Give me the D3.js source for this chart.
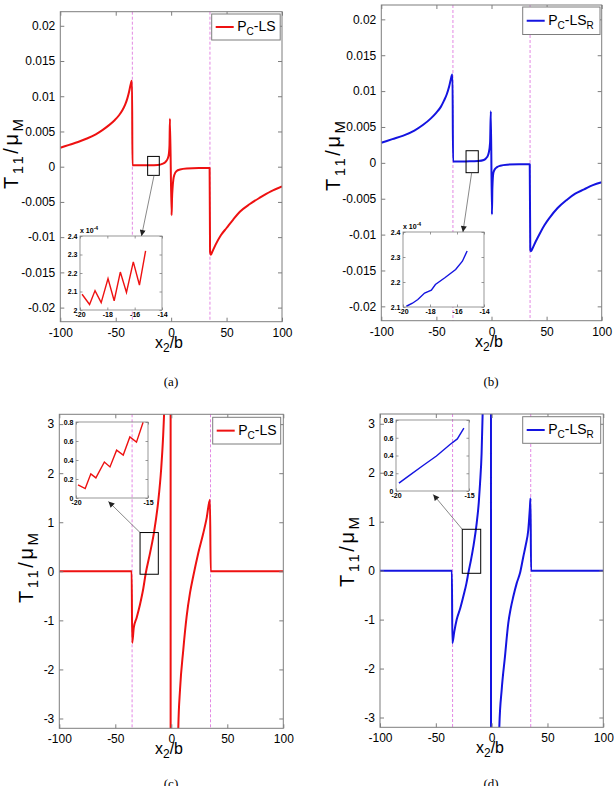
<!DOCTYPE html>
<html><head><meta charset="utf-8">
<script src="https://cdn.jsdelivr.net/npm/d3@7"></script>
<style>body{margin:0;background:#fff}</style>
</head><body>
<script>
// ---------------- DATA ----------------
const xTicksMain = [-100, -50, 0, 50, 100];
const yTicksSmall = [-0.02, -0.015, -0.01, -0.005, 0, 0.005, 0.01, 0.015, 0.02];
const yTicksLarge = [-3, -2, -1, 0, 1, 2, 3];
const interfacePositions = [-35, 35];

const curveA = [[-100,0.0027],[-92,0.0031],[-84,0.0035],[-76,0.004],[-68,0.0046],[-62,0.0052],[-56,0.0059],[-51,0.0066],[-47,0.0073],[-44,0.008],[-41.5,0.0088],[-39.5,0.0097],[-38,0.0106],[-36.8,0.0115],[-35.8,0.0121],[-35.3,0.0122],[-34.9,0.0002],[-30,0.0002],[-20,0.00021],[-12,0.00025],[-8,0.0004],[-5,0.0007],[-3,0.0012],[-2,0.0019],[-1.5,0.003],[-1.1,0.0068],[0.4,-0.0069],[0.8,-0.0045],[1.3,-0.003],[2,-0.0018],[3,-0.0011],[5,-0.0006],[8,-0.0004],[14,-0.00025],[25,-0.0002],[34.7,-0.0002],[35.1,-0.0121],[35.8,-0.0125],[37,-0.0121],[40,-0.0111],[45,-0.0097],[50,-0.0087],[56,-0.0075],[62,-0.0064],[71,-0.0053],[80,-0.0044],[90,-0.0035],[100,-0.0028]];
const curveB = [[-100,0.0028],[-90,0.0033],[-80,0.0038],[-70,0.0045],[-62,0.0053],[-55,0.0062],[-50,0.007],[-46,0.0078],[-43,0.0087],[-40.5,0.0096],[-38.5,0.0106],[-37,0.0116],[-36,0.0122],[-35.4,0.0123],[-34.9,0.0002],[-30,0.0002],[-20,0.00021],[-12,0.00026],[-7,0.0004],[-4,0.0008],[-2.5,0.0014],[-1.3,0.0028],[-0.6,0.0072],[0.4,-0.0072],[0.8,-0.0035],[1.7,-0.0014],[3,-0.0009],[5,-0.0006],[8,-0.0004],[14,-0.00025],[25,-0.0002],[34.7,-0.0002],[35.2,-0.0121],[35.8,-0.0123],[37,-0.012],[40,-0.011],[44,-0.0098],[48,-0.0087],[53,-0.0076],[60,-0.0063],[68,-0.0052],[76,-0.0043],[84,-0.0037],[92,-0.0031],[100,-0.0027]];
const curveC = [[-100,0],[-35.4,0],[-34.9,-1.46],[-33.5,-1.15],[-31,-0.95],[-28,-0.68],[-25,-0.35],[-22.9,-0.05],[-19,0.37],[-15.4,0.8],[-11.8,1.4],[-9,2.1],[-7.3,2.75],[-6.3,3.3],[-5.9,3.6],[-2,8],[-0.7,40],[-0.5,-40],[2,-8],[5.9,-3.6],[6.25,-3.2],[7.8,-2.41],[10.7,-1.6],[13.7,-0.92],[16.7,-0.44],[19.6,-0.1],[24.1,0.375],[28.6,0.78],[31.6,1.09],[34.5,1.46],[35.2,0],[100,0]];
const curveD = [[-100,0],[-35.6,0],[-35.2,-1.48],[-33.5,-1.25],[-31.3,-1.0],[-28,-0.76],[-25.4,-0.53],[-22.5,-0.25],[-20.9,-0.05],[-18.5,0.22],[-16.4,0.49],[-13.4,0.97],[-11.5,1.4],[-10.4,1.78],[-9,2.4],[-8.1,3.18],[-7.7,3.6],[-2,8],[-0.7,40],[-0.5,-40],[2,-8],[6.5,-3.6],[6.9,-3.18],[9,-2.43],[11.9,-1.76],[14.9,-1.07],[17,-0.78],[19.4,-0.53],[22.4,-0.26],[25.4,-0.05],[28.4,0.29],[30.5,0.52],[32.8,0.83],[34.3,1.3],[34.8,1.48],[35.3,0],[100,0]];

const insetA = [[-19.85,2.085],[-19.3,2.03],[-18.9,2.105],[-18.45,2.04],[-17.95,2.17],[-17.5,2.05],[-17.05,2.205],[-16.6,2.095],[-16.1,2.26],[-15.65,2.135],[-15.2,2.32]];
const insetB = [[-19.75,2.103],[-19.3,2.115],[-18.9,2.13],[-18.4,2.156],[-17.9,2.167],[-17.6,2.19],[-16.9,2.217],[-16.1,2.25],[-15.6,2.283],[-15.25,2.324]];
const insetC = [[-19.86,0.139],[-19.36,0.10],[-18.97,0.254],[-18.62,0.212],[-18.03,0.379],[-17.64,0.327],[-17.18,0.504],[-16.72,0.452],[-16.26,0.643],[-15.8,0.588],[-15.34,0.797]];
const insetD = [[-19.8,0.089],[-19.1,0.173],[-18.17,0.284],[-17.23,0.395],[-16.3,0.524],[-15.8,0.587],[-15.35,0.708]];

const insetXTicksAB = [-20, -18, -16, -14];
const insetXTicksCD = [-20, -15];
const insetYTicksA = [2, 2.1, 2.2, 2.3, 2.4];
const insetYTicksB = [2.1, 2.2, 2.3, 2.4];
const insetYTicksCD = [0, 0.2, 0.4, 0.6, 0.8];

// zoom rectangles in data units: [x0, x1, y0, y1]
const zoomBoxA = [-21.2, -10.7, -0.00123, 0.00146];
const zoomBoxB = [-23.1, -12.0, -0.00137, 0.00169];
const zoomBoxC = [-27.9, -11.6, -0.06, 0.79];
const zoomBoxD = [-26.3, -9.8, -0.054, 0.845];

// ---------------- DRAWING ----------------
const RED = '#ee1111', BLUE = '#1414e0', AX = '#7d7d7d', DASH = '#e07ae0';
const FONT = '"Liberation Sans", Arial, Helvetica, sans-serif';
const svg = d3.select('body').append('svg').attr('width', 614).attr('height', 786);
svg.append('rect').attr('width', 614).attr('height', 786).attr('fill', '#fff');
const defs = svg.append('defs');
defs.append('marker').attr('id', 'arr').attr('viewBox', '0 0 10 10').attr('refX', 10).attr('refY', 5)
  .attr('markerUnits', 'userSpaceOnUse').attr('markerWidth', 7).attr('markerHeight', 6).attr('orient', 'auto')
  .append('path').attr('d', 'M0,0 L10,5 L0,10 z').attr('fill', '#222');

const fmtSmall = d => String(+d.toFixed(3));
const fmtPlain = d => String(+d.toFixed(2));

const panels = [
  { id: 'a', data: curveA, color: RED, yDomain: [-0.022, 0.022], yTicks: yTicksSmall, fmt: fmtSmall,
    box: { l: 60.3, r: 282, t: 11.7, b: 321.7 }, legend: { x: 211.7, y: 14, w: 68.5, h: 26 }, subR: false,
    zoom: zoomBoxA, ylab: { x: 18, y: 154 }, xlab: { x: 169, y: 348 }, cap: { x: 171, y: 386, t: '(a)' },
    inset: { l: 80, r: 162, t: 236, b: 310, data: insetA, xd: [-20, -14], yd: [2, 2.4], xt: insetXTicksAB, yt: insetYTicksA, exp: true, opaque: true },
    arrow: { sx: 0.55, ex: 0.75, fromBottom: true } },
  { id: 'b', data: curveB, color: BLUE, yDomain: [-0.022, 0.022], yTicks: yTicksSmall, fmt: fmtSmall,
    box: { l: 381.3, r: 601.7, t: 5, b: 320.7 }, legend: { x: 522.7, y: 7, w: 77.3, h: 27.5 }, subR: true,
    zoom: zoomBoxB, ylab: { x: 340, y: 156 }, xlab: { x: 489, y: 347 }, cap: { x: 491, y: 386, t: '(b)' },
    inset: { l: 403, r: 484, t: 232, b: 307, data: insetB, xd: [-20, -14], yd: [2.1, 2.4], xt: insetXTicksAB, yt: insetYTicksB, exp: true, opaque: true },
    arrow: { sx: 0.46, ex: 0.74, fromBottom: true } },
  { id: 'c', data: curveC, color: RED, yDomain: [-3.2, 3.2], yTicks: yTicksLarge, fmt: fmtPlain,
    box: { l: 59.3, r: 283.3, t: 414.3, b: 728.3 }, legend: { x: 212.7, y: 417.3, w: 68, h: 26.7 }, subR: false,
    zoom: zoomBoxC, ylab: { x: 33, y: 568 }, xlab: { x: 169, y: 754 }, cap: { x: 171, y: 788, t: '(c)' },
    inset: { l: 76, r: 148, t: 422, b: 498, data: insetC, xd: [-20, -15], yd: [0, 0.8], xt: insetXTicksCD, yt: insetYTicksCD, exp: false, opaque: false },
    arrow: { sx: 0, ex: 0.45, fromBottom: false } },
  { id: 'd', data: curveD, color: BLUE, yDomain: [-3.2, 3.2], yTicks: yTicksLarge, fmt: fmtPlain,
    box: { l: 380, r: 603.3, t: 414, b: 727.3 }, legend: { x: 522.7, y: 416.7, w: 78, h: 26.6 }, subR: true,
    zoom: zoomBoxD, ylab: { x: 354, y: 552 }, xlab: { x: 490, y: 753 }, cap: { x: 491, y: 788, t: '(d)' },
    inset: { l: 396, r: 469, t: 420, b: 491, data: insetD, xd: [-20, -15], yd: [0, 0.8], xt: insetXTicksCD, yt: insetYTicksCD, exp: false, opaque: false },
    arrow: { sx: 0, ex: 0.51, fromBottom: false } }
];

function drawAxes(g, x, y, xt, yt, xf, yf, o) {
  const { l, r, t, b } = o.box;
  const tl = o.tickLen;
  const ax = g.append('g').attr('transform', `translate(0,${b})`)
    .call(d3.axisBottom(x).tickValues(xt).tickFormat(xf).tickSize(-tl).tickPadding(o.padX));
  const ay = g.append('g').attr('transform', `translate(${l},0)`)
    .call(d3.axisLeft(y).tickValues(yt).tickFormat(yf).tickSize(-tl).tickPadding(o.padY));
  const at = g.append('g').attr('transform', `translate(0,${t})`)
    .call(d3.axisTop(x).tickValues(xt).tickFormat('').tickSize(-tl));
  const ar = g.append('g').attr('transform', `translate(${r},0)`)
    .call(d3.axisRight(y).tickValues(yt).tickFormat('').tickSize(-tl));
  [ax, ay, at, ar].forEach(a => {
    a.select('.domain').remove();
    a.selectAll('line').attr('stroke', AX).attr('stroke-width', o.sw);
    a.selectAll('text').attr('fill', '#000').attr('font-family', FONT).attr('font-size', o.fs)
      .attr('font-weight', o.bold ? 'bold' : 'normal');
  });
  g.append('rect').attr('x', l).attr('y', t).attr('width', r - l).attr('height', b - t)
    .attr('fill', 'none').attr('stroke', AX).attr('stroke-width', o.sw);
}

panels.forEach(p => {
  const g = svg.append('g').attr('id', 'panel-' + p.id);
  const { l, r, t, b } = p.box;
  const x = d3.scaleLinear().domain([-100, 100]).range([l, r]);
  const y = d3.scaleLinear().domain(p.yDomain).range([b, t]);
  const clipId = 'clip-' + p.id;
  defs.append('clipPath').attr('id', clipId).append('rect').attr('x', l).attr('y', t).attr('width', r - l).attr('height', b - t);

  // interface dashed lines
  g.selectAll('line.iface').data(interfacePositions).join('line').attr('class', 'iface')
    .attr('x1', d => x(d)).attr('x2', d => x(d)).attr('y1', t).attr('y2', b)
    .attr('stroke', DASH).attr('stroke-width', 0.9).attr('stroke-dasharray', '3,2');

  // main curve
  const line = d3.line().curve(d3.curveMonotoneX).x(d => x(d[0])).y(d => y(d[1]));
  g.append('path').datum(p.data).attr('d', line).attr('clip-path', `url(#${clipId})`)
    .attr('fill', 'none').attr('stroke', p.color).attr('stroke-width', 2).attr('stroke-linejoin', 'round');

  drawAxes(g, x, y, xTicksMain, p.yTicks, d => String(d), p.fmt,
    { box: p.box, tickLen: 4, padX: 6.5, padY: 5, sw: 1, fs: 12, bold: false });

  // zoom box
  const z = p.zoom;
  const zx0 = x(z[0]), zx1 = x(z[1]), zy0 = y(z[3]), zy1 = y(z[2]);
  g.append('rect').attr('x', zx0).attr('y', zy0).attr('width', zx1 - zx0).attr('height', zy1 - zy0)
    .attr('fill', 'none').attr('stroke', '#000').attr('stroke-width', 1);

  // inset
  const I = p.inset;
  const ix = d3.scaleLinear().domain(I.xd).range([I.l, I.r]);
  const iy = d3.scaleLinear().domain(I.yd).range([I.b, I.t]);
  const ig = g.append('g').attr('class', 'inset');
  if (I.opaque) ig.append('rect').attr('x', I.l).attr('y', I.t).attr('width', I.r - I.l).attr('height', I.b - I.t).attr('fill', '#fff');
  ig.append('path').datum(I.data).attr('d', d3.line().x(d => ix(d[0])).y(d => iy(d[1])))
    .attr('fill', 'none').attr('stroke', p.color).attr('stroke-width', 1.4);
  drawAxes(ig, ix, iy, I.xt, I.yt, d => String(d), d => String(d),
    { box: { l: I.l, r: I.r, t: I.t, b: I.b }, tickLen: 2.5, padX: 2, padY: 2.5, sw: 0.8, fs: 7, bold: true });
  if (I.exp) {
    const et = ig.append('text').attr('x', I.l).attr('y', I.t - 3).attr('font-family', FONT)
      .attr('font-size', 7).attr('font-weight', 'bold');
    et.append('tspan').text('x 10');
    et.append('tspan').attr('dy', -3).attr('font-size', 5).text('-4');
  }

  // arrow
  const A = p.arrow;
  let sx, sy, ex, ey;
  if (A.fromBottom) { sx = zx0 + A.sx * (zx1 - zx0); sy = zy1; ex = I.l + A.ex * (I.r - I.l); ey = I.t; }
  else { sx = zx0; sy = zy0; ex = I.l + A.ex * (I.r - I.l); ey = I.b + 3.5; }
  g.append('line').attr('x1', sx).attr('y1', sy).attr('x2', ex).attr('y2', ey)
    .attr('stroke', '#555').attr('stroke-width', 0.7).attr('marker-end', 'url(#arr)');

  // legend
  const L = p.legend;
  g.append('rect').attr('x', L.x).attr('y', L.y).attr('width', L.w).attr('height', L.h)
    .attr('fill', '#fff').attr('stroke', AX).attr('stroke-width', 1);
  const ly = L.y + L.h / 2;
  g.append('line').attr('x1', L.x + 4).attr('x2', L.x + 22).attr('y1', ly).attr('y2', ly)
    .attr('stroke', p.color).attr('stroke-width', 2);
  const lt = g.append('text').attr('x', L.x + 25.5).attr('y', ly + 4).attr('font-family', FONT).attr('font-size', 14);
  lt.append('tspan').text('P');
  lt.append('tspan').attr('dy', 4).attr('font-size', 10).text('C');
  lt.append('tspan').attr('dy', -4).text('-LS');
  if (p.subR) lt.append('tspan').attr('dy', 4).attr('font-size', 10).text('R');

  // y label
  const yl = g.append('text').attr('transform', `translate(${p.ylab.x},${p.ylab.y}) rotate(-90)`)
    .attr('text-anchor', 'middle').attr('font-family', FONT).attr('font-size', 20)
    .attr('textLength', 70).attr('lengthAdjust', 'spacing');
  yl.append('tspan').text('T');
  yl.append('tspan').attr('dy', 5).attr('font-size', 15).text('11');
  yl.append('tspan').attr('dy', -5).text('/μ');
  yl.append('tspan').attr('dy', 5).attr('font-size', 15).text('M');

  // x label
  const xl = g.append('text').attr('x', p.xlab.x).attr('y', p.xlab.y).attr('text-anchor', 'middle')
    .attr('font-family', FONT).attr('font-size', 16);
  xl.append('tspan').text('x');
  xl.append('tspan').attr('dy', 4).attr('font-size', 12).text('2');
  xl.append('tspan').attr('dy', -4).text('/b');

  // caption
  svg.append('text').attr('x', p.cap.x).attr('y', p.cap.y).attr('text-anchor', 'middle')
    .attr('font-family', '"Liberation Serif", "DejaVu Serif", serif').attr('font-size', 13).text(p.cap.t);
});
</script>
</body></html>
